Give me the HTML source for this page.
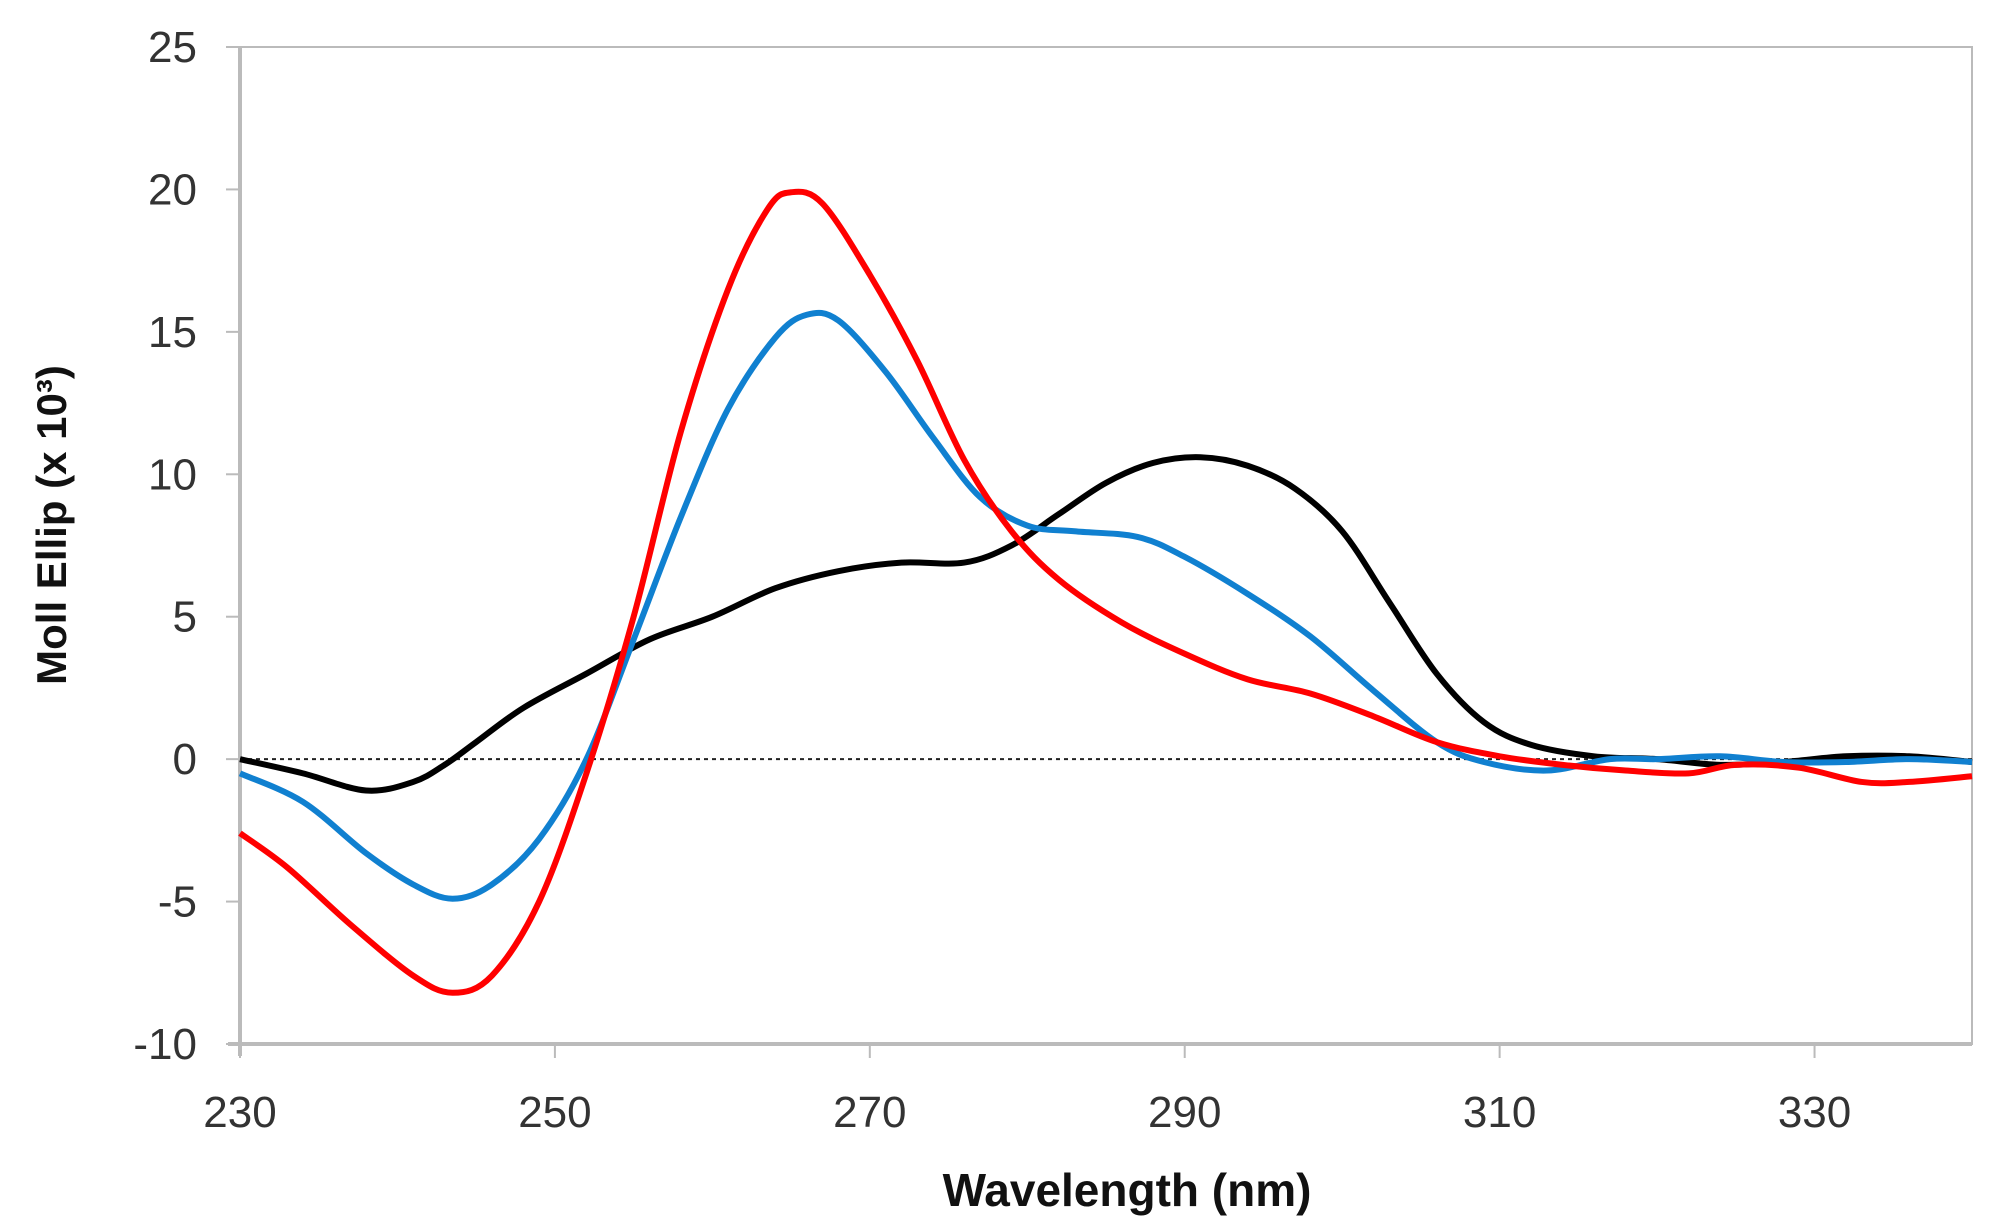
<!DOCTYPE html>
<html><head><meta charset="utf-8"><style>
html,body{margin:0;padding:0;background:#fff;}
svg{display:block;}
text{font-family:"Liberation Sans",sans-serif;}
</style></head><body>
<svg id="chart" width="1998" height="1230" xmlns="http://www.w3.org/2000/svg">
<g id="axes"></g>
<g id="series"></g>
<text x="1127" y="1206" text-anchor="middle" font-size="46" font-weight="bold" fill="#111">Wavelength (nm)</text>
<text transform="translate(66,525) rotate(-90)" text-anchor="middle" font-size="42" font-weight="bold" fill="#111">Moll Ellip (x 10³)</text>
</svg>
<script>
const xTicks=[230,250,270,290,310,330];
const yTicks=[-10,-5,0,5,10,15,20,25];
const blackX=[230,234,238,241,243,245,248,252,256,260,264,268,272,276,279,282,285,288,291,294,297,300,303,306,309,312,316,320,324,328,332,336,340];
const blackY=[0,-0.5,-1.1,-0.8,-0.2,0.6,1.8,3,4.2,5,6,6.6,6.9,6.9,7.5,8.6,9.7,10.4,10.6,10.3,9.5,8,5.5,3,1.3,0.5,0.1,0,-0.2,-0.1,0.1,0.1,-0.1];
const blueX=[230,234,238,241,243.5,246,249,252,255,258,261,264,266,268,271,274,277,280,283,287,290,294,298,302,306,309,313,317,320,324,328,332,336,340];
const blueY=[-0.5,-1.5,-3.3,-4.4,-4.9,-4.4,-2.8,0,4.2,8.5,12.3,14.8,15.6,15.4,13.6,11.3,9.2,8.2,8,7.8,7.1,5.8,4.3,2.4,0.6,-0.1,-0.4,0,0,0.1,-0.1,-0.1,0,-0.1];
const redX=[230,233,237,241,243.5,246,249,252,255,258,261,263.5,265,267,270,273,276,279,282,286,290,294,298,302,306,310,314,318,322,325,329,333,336,340];
const redY=[-2.6,-3.8,-5.8,-7.6,-8.2,-7.6,-5,-0.5,5,11.5,16.5,19.3,19.9,19.5,17,14,10.5,8,6.3,4.8,3.7,2.8,2.3,1.5,0.6,0.1,-0.2,-0.4,-0.5,-0.2,-0.3,-0.8,-0.8,-0.6];

const L=240,R=1972,T=47,B=1044;
const xs=v=>L+(v-230)*(R-L)/110;
const ys=v=>T+(25-v)*(B-T)/35;
const NS="http://www.w3.org/2000/svg";
function mk(tag,attrs,parent){const e=document.createElementNS(NS,tag);for(const k in attrs)e.setAttribute(k,attrs[k]);parent.appendChild(e);return e;}
const ax=document.getElementById('axes');
let e;
e=mk('rect',{x:L,y:T,width:R-L,height:B-T,fill:'none',stroke:'#bbb','stroke-width':2},ax);


e=mk('line',{x1:L,y1:T,x2:L,y2:B+12,stroke:'#bbb','stroke-width':4},ax);


e=mk('line',{x1:L-12,y1:B,x2:R,y2:B,stroke:'#bbb','stroke-width':4},ax);


yTicks.forEach(v=>{
  const t=mk('line',{x1:L-14,y1:ys(v),x2:L,y2:ys(v),stroke:'#bbb','stroke-width':2},ax);
  
  
  const l=mk('text',{x:197,y:ys(v)+15,'text-anchor':'end','font-size':44,fill:'#333'},ax);
  l.textContent=v;
  
  
});
xTicks.forEach(v=>{
  const t=mk('line',{x1:xs(v),y1:B,x2:xs(v),y2:B+14,stroke:'#bbb','stroke-width':2},ax);
  
  
  const l=mk('text',{x:xs(v),y:1127,'text-anchor':'middle','font-size':44,fill:'#333'},ax);
  l.textContent=v;
  
  
});
e=mk('line',{x1:L,y1:ys(0),x2:R,y2:ys(0),stroke:'#222','stroke-width':2,'stroke-dasharray':'4,4'},ax);



function path(X,Y){
  const p=X.map((x,i)=>[xs(x),ys(Y[i])]);
  let d='M'+p[0][0]+','+p[0][1];
  for(let i=0;i<p.length-1;i++){
    const p0=p[i-1]||p[i],p1=p[i],p2=p[i+1],p3=p[i+2]||p[i+1];
    const c1=[p1[0]+(p2[0]-p0[0])/6,p1[1]+(p2[1]-p0[1])/6];
    const c2=[p2[0]-(p3[0]-p1[0])/6,p2[1]-(p3[1]-p1[1])/6];
    d+=`C${c1[0]},${c1[1]} ${c2[0]},${c2[1]} ${p2[0]},${p2[1]}`;
  }
  return d;
}
const sg=document.getElementById('series');
e=mk('path',{d:path(blackX,blackY),fill:'none',stroke:'#000','stroke-width':6,'stroke-linejoin':'round'},sg);


e=mk('path',{d:path(blueX,blueY),fill:'none',stroke:'#1080d0','stroke-width':6,'stroke-linejoin':'round'},sg);


e=mk('path',{d:path(redX,redY),fill:'none',stroke:'#ff0000','stroke-width':6,'stroke-linejoin':'round'},sg);


</script>
</body></html>
